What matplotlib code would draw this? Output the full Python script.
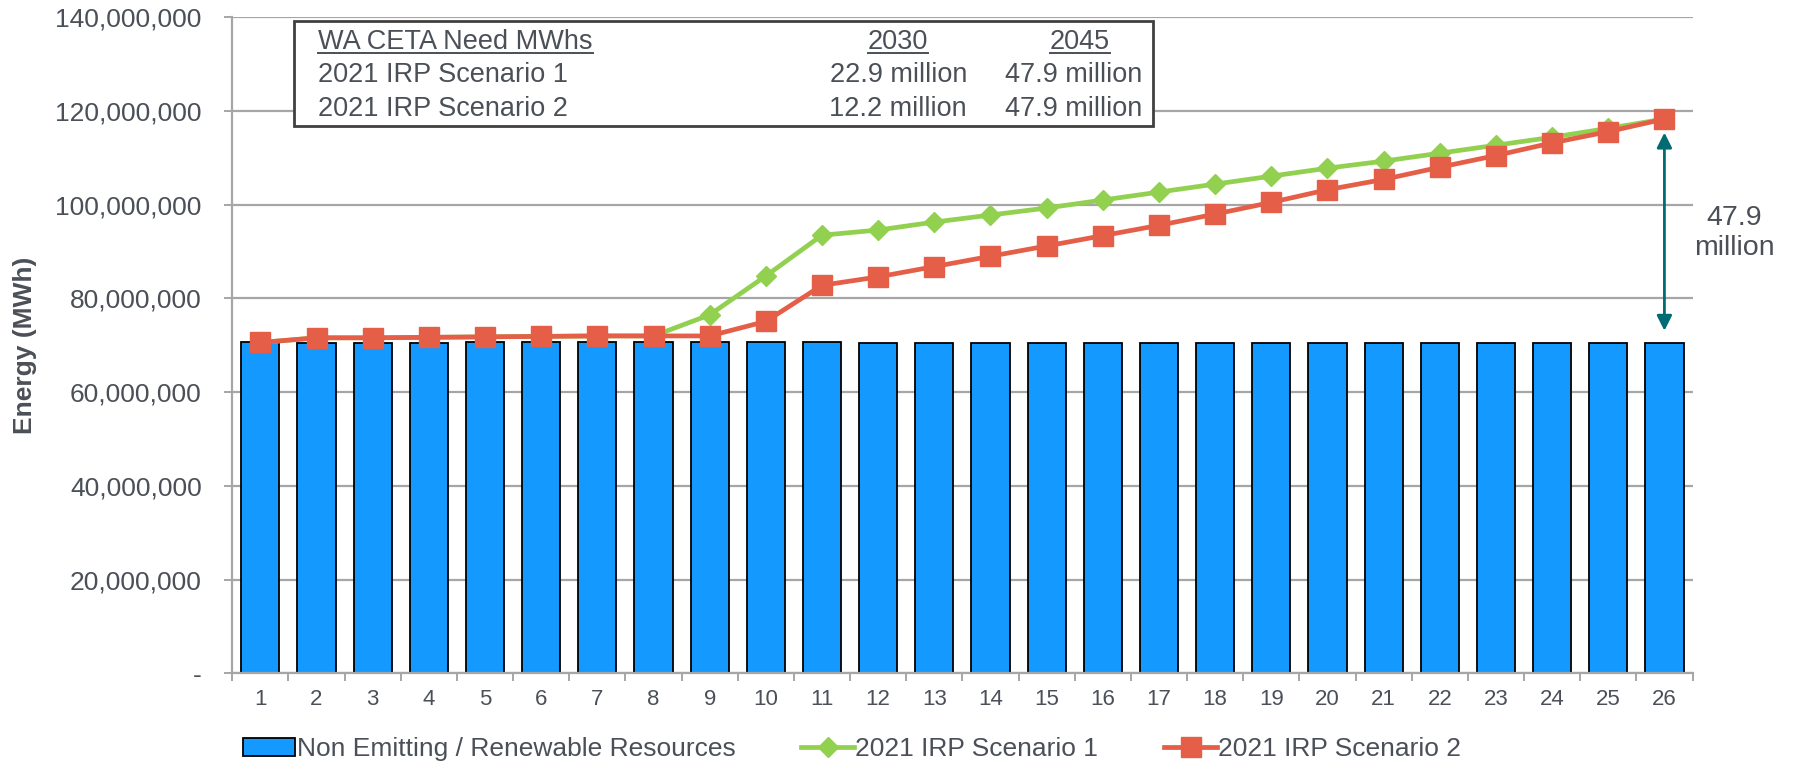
import matplotlib
matplotlib.use("Agg")
import matplotlib.pyplot as plt
from matplotlib.ticker import FuncFormatter, FixedLocator
from matplotlib.lines import Line2D

plt.rcParams['font.family'] = ['Liberation Sans', 'DejaVu Sans']

# study years 1..26 (2020-2045)
years = list(range(1, 27))

# non emitting / renewable resources (MWh)
renewables = [70.8e6, 70.5e6, 70.5e6, 70.5e6, 70.6e6, 70.6e6, 70.6e6, 70.6e6,
              70.6e6, 70.6e6, 70.6e6, 70.4e6, 70.4e6, 70.4e6, 70.4e6, 70.4e6,
              70.4e6, 70.4e6, 70.4e6, 70.4e6, 70.4e6, 70.4e6, 70.4e6, 70.4e6,
              70.4e6, 70.4e6]

scenario1 = [70.6e6, 71.6e6, 71.6e6, 71.7e6, 71.8e6, 71.9e6, 72.0e6, 72.0e6,
             76.5e6, 84.8e6, 93.5e6, 94.6e6, 96.3e6, 97.8e6, 99.3e6, 101.0e6,
             102.7e6, 104.4e6, 106.1e6, 107.8e6, 109.3e6, 111.0e6, 112.7e6,
             114.4e6, 116.3e6, 118.3e6]

scenario2 = [70.6e6, 71.6e6, 71.6e6, 71.7e6, 71.8e6, 71.9e6, 72.0e6, 72.0e6,
             72.0e6, 75.1e6, 82.8e6, 84.6e6, 86.8e6, 89.0e6, 91.2e6, 93.4e6,
             95.6e6, 98.0e6, 100.5e6, 103.2e6, 105.4e6, 108.0e6, 110.5e6,
             113.2e6, 115.6e6, 118.3e6]

# need table
table_header = ["WA CETA Need MWhs", "2030", "2045"]
table_rows = [["2021 IRP Scenario 1", "22.9 million", "47.9 million"],
              ["2021 IRP Scenario 2", "12.2 million", "47.9 million"]]
gap_label = "47.9\nmillion"

BLUE = '#1499FF'
GREEN = '#92D050'
RED = '#E45E48'
TEAL = '#006B73'
GRID = '#A6A6A6'
TXT = '#4B5058'
NARROW = ['Liberation Sans Narrow', 'Liberation Sans', 'DejaVu Sans']

W, H = 1794, 764
fig = plt.figure(figsize=(W / 100, H / 100), dpi=100)


def fx(px):
    return px / W


def fy(py):
    return 1 - py / H


ax = fig.add_axes([fx(232.3), fy(673.3), fx(1692.5) - fx(232.3), fy(17.3) - fy(673.3)])

bars = ax.bar(years, renewables, width=0.68, color=BLUE, edgecolor='black', linewidth=1.3,
              zorder=2, label='Non Emitting / Renewable Resources')
l1, = ax.plot(years, scenario1, color=GREEN, lw=3.4, marker='D', ms=10, zorder=3,
              label='2021 IRP Scenario 1')
l2, = ax.plot(years, scenario2, color=RED, lw=3.4, marker='s', ms=14, zorder=4,
              label='2021 IRP Scenario 2')

ax.set_xlim(0.5, 26.5)
ax.set_ylim(0, 140e6)
ax.set_yticks([i * 20e6 for i in range(8)])
ax.yaxis.set_major_formatter(FuncFormatter(lambda v, p: '-' if v == 0 else f'{v:,.0f}'))
ax.grid(axis='y', color=GRID, lw=1.6, zorder=0)
ax.set_axisbelow(True)

ax.set_xticks(years)
ax.set_xticklabels([str(y) for y in years], family=NARROW)
ax.xaxis.set_minor_locator(FixedLocator([y + 0.5 for y in range(0, 27)]))
ax.tick_params(axis='x', which='major', length=0, pad=11, labelsize=16, labelcolor=TXT)
ax.tick_params(axis='x', which='minor', length=5.5, width=1.4, color=GRID)
ax.tick_params(axis='y', length=5.5, width=1.4, color=GRID, pad=16.5, labelsize=19,
               labelcolor=TXT)

for s in ['top', 'right']:
    ax.spines[s].set_visible(False)
for s in ['left', 'bottom']:
    ax.spines[s].set_color(GRID)
    ax.spines[s].set_linewidth(1.6)

fig.text(fx(25), fy(345), 'Energy (MWh)', rotation=90, ha='center', va='center',
         fontsize=19, fontweight='bold', color=TXT)

# gap arrow on the final year
ax.annotate('', xy=(26, 115.4e6), xytext=(26, 73.1e6),
            arrowprops=dict(arrowstyle='<|-|>,head_length=0.9,head_width=0.45',
                            color=TEAL, lw=2, shrinkA=0, shrinkB=0), zorder=5)
ax.text(27.25, 94e6, gap_label, ha='center', va='center', fontsize=20.5, color=TXT,
        linespacing=1.2, clip_on=False)

# need table box
box = plt.Rectangle((fx(294), fy(126)), fx(1153) - fx(294), fy(20.6) - fy(126),
                    transform=fig.transFigure, facecolor='white', edgecolor='#404040',
                    lw=2, zorder=5)
fig.patches.append(box)

row_y = [42.3, 75.5, 108.7]
hdr = [fig.text(fx(318), fy(row_y[0]), table_header[0], ha='left', va='center',
                fontsize=19.5, color=TXT, zorder=6),
       fig.text(fx(898), fy(row_y[0]), table_header[1], ha='center', va='center',
                fontsize=19.5, color=TXT, zorder=6),
       fig.text(fx(1080), fy(row_y[0]), table_header[2], ha='center', va='center',
                fontsize=19.5, color=TXT, zorder=6)]
for yy, row in zip(row_y[1:], table_rows):
    fig.text(fx(318), fy(yy), row[0], ha='left', va='center', fontsize=19.5,
             color=TXT, zorder=6)
    fig.text(fx(967), fy(yy), row[1], ha='right', va='center', fontsize=19.5,
             color=TXT, zorder=6)
    fig.text(fx(1142), fy(yy), row[2], ha='right', va='center', fontsize=19.5,
             color=TXT, zorder=6)

fig.legend(handles=[bars, l1, l2], loc='center', bbox_to_anchor=(fx(852), fy(749)),
           ncol=3, frameon=False, fontsize=19, handlelength=2.0, handletextpad=0.05,
           columnspacing=2.5, labelcolor=TXT)

# underline the table headers
fig.canvas.draw()
r = fig.canvas.get_renderer()
for t in hdr:
    bb = t.get_window_extent(r)
    yline = bb.y0 + 2
    fig.add_artist(Line2D([bb.x0 / W, bb.x1 / W], [yline / H, yline / H],
                          transform=fig.transFigure, color=TXT, lw=1.4, zorder=7))

fig.savefig('out.png', dpi=100)
